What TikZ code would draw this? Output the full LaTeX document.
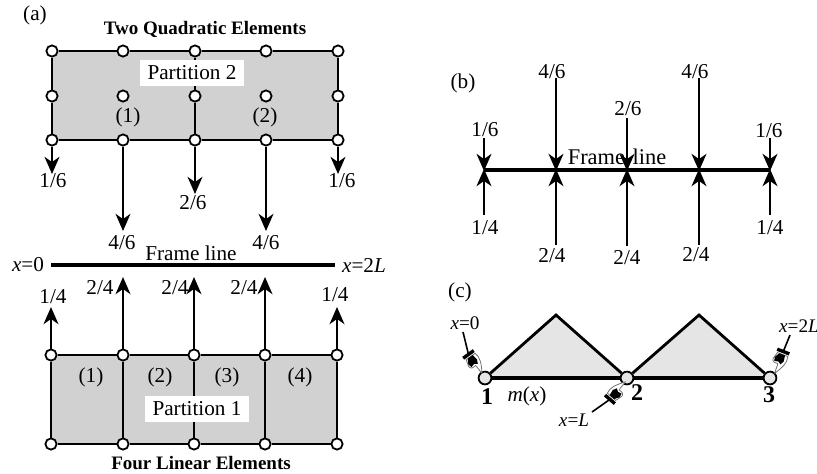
\documentclass[tikz,border=0pt]{standalone}
\usepackage{fontspec}
\setmainfont{Liberation Serif}
\usetikzlibrary{arrows.meta,calc,positioning}

\begin{document}
\begin{tikzpicture}[
  x=0.5pt, y=-0.5pt,
  >={Stealth[length=3mm, width=2.6mm, inset=0.9mm]},
  fibre/.style  = {->, line width=1.3pt, shorten >=-0.5pt},
  bar/.style    = {line width=1.4pt},
  nd/.style     = {circle, draw, fill=white, line width=0.9pt, inner sep=0pt, minimum size=5.6pt},
  ndc/.style    = {nd, fill=black!10, minimum size=6.4pt},
  lbl/.style    = {inner sep=0pt, font=\fontsize{10.6}{12}\selectfont},
  ttl/.style    = {lbl, font=\fontsize{9.5}{12}\selectfont\bfseries},
  pbox/.style   = {lbl, fill=white, inner xsep=4pt, inner ysep=3pt},
  xlbl/.style   = {lbl, font=\fontsize{9.6}{12}\selectfont},
  numb/.style   = {inner sep=0pt, font=\fontsize{12}{12}\selectfont\bfseries},
  pics/hand/.style = {code={
    \coordinate (-cuff) at (-23,0);
    \draw[line width=1.7pt] (-23,-6.5) -- (-23,6.5);
    \draw[black!55, line width=0.4pt, fill=white] (-20,-6) .. controls (-14,-8) and (-8,-5) .. (0,0)
      .. controls (-4,1) and (-8,0) .. (-10,1) .. controls (-9,4) and (-10,7) .. (-13,7)
      -- (-20,5) -- cycle;
    \fill (-20,-3) -- (-14,-4) -- (-10,-2) -- (-12,1) -- (-11,5) -- (-15,6) -- (-20,3) -- cycle;
  }},
]
\useasboundingbox (0,0) rectangle (817,473);

%% ------------------------------------------------------------------ (a) TOP
\node[lbl] (capa) at (35,15) {(a)};
\node[ttl] (ttltop) at (205,29) {Two Quadratic Elements};
\fill[black!18] (52,51) rectangle (338,140);
\foreach \x/\i in {52/1, 123/2, 195/3, 266/4, 338/5}
  \foreach \y/\j in {51/1, 96/2, 140/3}
    { \node[nd] (q\i\j) at (\x,\y) {}; }
\draw[bar] (q11) -- (q21) -- (q31) -- (q41) -- (q51);
\draw[bar] (q13) -- (q23) -- (q33) -- (q43) -- (q53);
\draw[bar] (q11) -- (q12) -- (q13);
\draw[bar] (q51) -- (q52) -- (q53);
\draw[line width=1pt] (q31) -- (q32) -- (q33);
\node[pbox] (part2) at (192,73) {Partition 2};
\node[lbl] (e1) at (128,117) {(1)};
\node[lbl] (e2) at (265,117) {(2)};

% consistent forces, hanging off the bottom row
\foreach \i/\x/\y in {1/52/173, 2/123/230, 3/195/193, 4/266/230, 5/338/173}
  { \coordinate (qf\i) at (\x,\y);
    \draw[fibre] (q\i3) -- (qf\i); }
\node[lbl] (qt1) at (53,181) {1/6};
\node[lbl] (qt2) at (122,243) {4/6};
\node[lbl] (qt3) at (193,203) {2/6};
\node[lbl] (qt4) at (266,243) {4/6};
\node[lbl] (qt5) at (342,181) {1/6};

%% ------------------------------------------------------------------ FRAME LINE
\node[lbl] (x0) at (28,265) {\textit{x}=0};
\node[lbl] (x2L) at (364,265) {\textit{x}=2\textit{L}};
\coordinate (fa) at (51,265);
\coordinate (fb) at (335,265);
\draw[line width=1.8pt] (fa) -- (fb);
\node[lbl] (frm) at (191,253) {Frame line};

%% ------------------------------------------------------------------ (a) BOTTOM
\fill[black!18] (51,355) rectangle (337,444);
\foreach \x/\i in {51/1, 123/2, 194/3, 265/4, 337/5}
  \foreach \y/\j in {355/1, 444/2}
    { \node[nd] (p\i\j) at (\x,\y) {}; }
\draw[bar] (p11) -- (p21) -- (p31) -- (p41) -- (p51);
\draw[bar] (p12) -- (p22) -- (p32) -- (p42) -- (p52);
\draw[bar] (p11) -- (p12);
\draw[bar] (p21) -- (p22);
\draw[line width=1pt] (p31) -- (p32);
\draw[bar] (p41) -- (p42);
\draw[bar] (p51) -- (p52);
\node[pbox] (part1) at (197,409) {Partition 1};
\node[lbl] (n1) at (91,377) {(1)};
\node[lbl] (n2) at (160,377) {(2)};
\node[lbl] (n3) at (227,377) {(3)};
\node[lbl] (n4) at (300,377) {(4)};
\node[ttl] (ttlbot) at (201,463) {Four Linear Elements};

\foreach \i/\x/\y in {1/51/308, 2/123/278, 3/194/278, 4/265/278, 5/337/308}
  { \coordinate (pf\i) at (\x,\y);
    \draw[fibre] (p\i1) -- (pf\i); }
\node[lbl] (pt1) at (53,297) {1/4};
\node[lbl] (pt2) at (100,288) {2/4};
\node[lbl] (pt3) at (175,288) {2/4};
\node[lbl] (pt4) at (244,288) {2/4};
\node[lbl] (pt5) at (335,295) {1/4};

%% ------------------------------------------------------------------ (b)
\node[lbl] (capb) at (463,83) {(b)};
\node[lbl, font=\fontsize{11.2}{12}\selectfont] (frmb) at (617,157) {Frame\hspace{1pt} line};
\foreach \x/\i in {484/1, 556/2, 627/3, 699/4, 770/5}
  { \coordinate (b\i) at (\x,170); }
\draw[line width=1.8pt] (b1) -- (b5);
\foreach \i/\x/\y in {1/484/138, 2/556/78, 3/627/118, 4/699/78, 5/770/138}
  { \coordinate (bu\i) at (\x,\y);
    \draw[fibre] (bu\i) -- (b\i); }
\foreach \i/\x/\y in {1/484/215, 2/556/245, 3/627/246, 4/699/245, 5/770/215}
  { \coordinate (bd\i) at (\x,\y);
    \draw[fibre] (bd\i) -- (b\i); }
\node[lbl] (bt1) at (485,130) {1/6};
\node[lbl] (bt2) at (552,72) {4/6};
\node[lbl] (bt3) at (628,109) {2/6};
\node[lbl] (bt4) at (695,72) {4/6};
\node[lbl] (bt5) at (769,131) {1/6};
\node[lbl] (bb1) at (485,228) {1/4};
\node[lbl] (bb2) at (552,256) {2/4};
\node[lbl] (bb3) at (627,258) {2/4};
\node[lbl] (bb4) at (696,255) {2/4};
\node[lbl] (bb5) at (770,228) {1/4};

%% ------------------------------------------------------------------ (c)
\node[lbl] (capc) at (460,292) {(c)};
\fill[black!10] (485,378) -- (556,315) -- (627,378) -- (699,315) -- (770,378) -- cycle;
\node[ndc] (c1) at (485,378) {};
\node[ndc] (c2) at (627,378) {};
\node[ndc] (c3) at (770,378) {};
\coordinate (pk1) at (556,315);
\coordinate (pk2) at (699,315);
\draw[bar] (c1) -- (pk1) -- (c2) -- (pk2) -- (c3);
\draw[line width=1.6pt] (c1) -- (c2) -- (c3);
\node[numb] (m1) at (487,397) {1};
\node[numb] (m2) at (637,393) {2};
\node[numb] (m3) at (769,395) {3};
\node[lbl] (mx) at (527,396) {\textit{m}(\textit{x})};

% pointing hands with their leaders
\pic (h1) at (482,373) [rotate=-54] {hand};
\pic (h2) at (625,382) [rotate=49] {hand};
\pic (h3) at (775,373) [rotate=-111] {hand};
\node[xlbl] (cx0) at (465,323) {\textit{x}=0};
\node[xlbl] (cxL) at (574,420) {\textit{x}=\textit{L}};
\node[xlbl] (cx2L) at (799,326) {\textit{x}=2\textit{L}};
\coordinate (l1) at (463,332);
\coordinate (l2) at (592,412);
\coordinate (l3) at (790,335);
\draw[line width=0.8pt] (l1) -- (h1-cuff);
\draw[line width=0.8pt] (l2) -- (h2-cuff);
\draw[line width=0.8pt] (l3) -- (h3-cuff);

\end{tikzpicture}
\end{document}
